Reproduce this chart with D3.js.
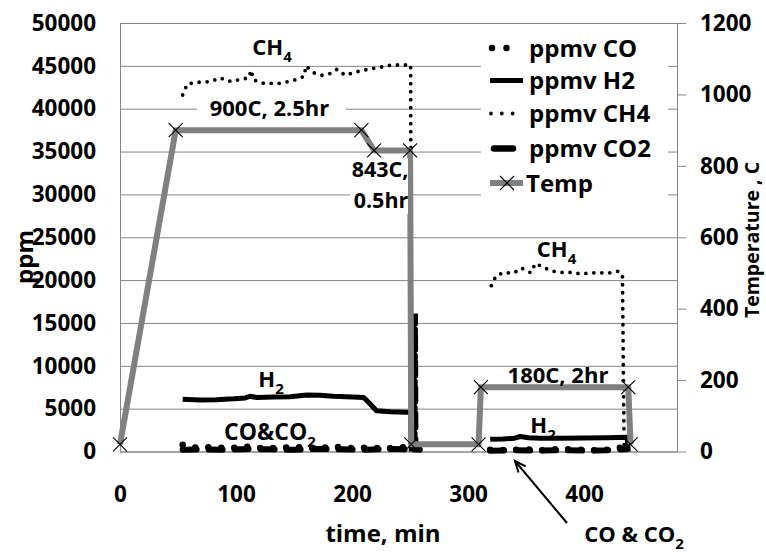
<!DOCTYPE html>
<html><head><meta charset="utf-8">
<script src="https://cdn.jsdelivr.net/npm/d3@7"></script>
<style>
body{margin:0;background:#fff;}
text{font-family:"Open Sans","Noto Sans",sans-serif;font-weight:700;fill:#000;}
</style></head><body>
<svg id="chart" width="766" height="552"></svg>
<script>
// ---- data ----
const timeTicks = [0, 100, 200, 300, 400];
const ppmTicks = [0, 5000, 10000, 15000, 20000, 25000, 30000, 35000, 40000, 45000, 50000];
const tempTicks = [0, 200, 400, 600, 800, 1000, 1200];

const tempTime  = [0, 48, 208, 219, 250, 251, 309, 311, 438, 440];
const tempValue = [20, 900, 900, 843, 843, 20, 20, 180, 180, 20];

const ch4Time  = [54, 58, 69, 78, 86, 96, 103, 111, 113, 115, 124, 138, 152, 159, 160, 167, 174, 181, 187, 194, 201, 210, 218, 227, 234, 243, 250.5, 251,
                  null,
                  320, 324, 331, 339, 346, 354, 358, 364, 372, 381, 389, 398, 405, 414, 422, 430, 433, 434.5];
const ch4Value = [41600, 42900, 43100, 43150, 43600, 43150, 43400, 43600, 44500, 43350, 42950, 42950, 43400, 43800, 45000, 44200, 43900, 44100, 44600, 43900, 44200, 44500, 44700, 44900, 45100, 45100, 45100, 0,
                  null,
                  19350, 20500, 20900, 20800, 21400, 20850, 21950, 21550, 21050, 20900, 20900, 20700, 20850, 20850, 20850, 21050, 20400, 0];

const h2Time  = [54, 69, 83, 98, 108, 112, 118, 132, 147, 161, 172, 184, 195, 210, 215, 221, 233, 247, 250.5, 251,
                 null,
                 319, 330, 340, 345, 352, 362, 380, 400, 420, 437, 438];
const h2Value = [6090, 6010, 6050, 6150, 6250, 6450, 6300, 6350, 6400, 6600, 6550, 6450, 6400, 6300, 5620, 4760, 4640, 4570, 4570, 0,
                 null,
                 1420, 1450, 1550, 1750, 1600, 1550, 1560, 1580, 1600, 1650, 0];

const coTime  = [54, 65, 80, 95, 110, 125, 140, 155, 170, 185, 200, 215, 230, 245, 251, 256,
                 null,
                 319, 335, 350, 365, 380, 395, 410, 425, 436, 438];
const coValue = [800, 450, 500, 400, 550, 350, 450, 500, 400, 550, 400, 450, 350, 500, 600, 300,
                 null,
                 200, 150, 250, 150, 300, 200, 150, 250, 600, 0];

const co2Time  = [54, 70, 90, 110, 130, 150, 170, 190, 210, 230, 250, 253.8, 254.2, 254.6, 260,
                  null,
                  319, 340, 360, 380, 400, 420, 437];
const co2Value = [200, 250, 200, 300, 250, 200, 300, 250, 200, 300, 250, 250, 16100, 250, 200,
                  null,
                  100, 150, 100, 150, 100, 150, 300];

const legendLabels = ["ppmv CO", "ppmv H2", "ppmv CH4", "ppmv CO2", "Temp"];

// ---- layout ----
const X0 = 120, X1 = 677, Y0 = 451.5, Y1 = 23;
const FS = 22.5;
const GRID = "#868686";
const svg = d3.select("#chart");
svg.append("rect").attr("width", 766).attr("height", 552).attr("fill", "#fff");

const x = d3.scaleLinear().domain([0, 480]).range([X0, X1]);
const y = d3.scaleLinear().domain([0, 50000]).range([Y0, Y1]);
const yT = d3.scaleLinear().domain([0, 1200]).range([Y0, Y1]);

function styleAxis(g) {
  g.attr("font-family", null).attr("font-size", FS).attr("font-weight", "bold");
  g.selectAll("line").attr("stroke", GRID);
  g.select(".domain").attr("stroke", GRID);
  g.selectAll("text").attr("fill", "#000");
}

const gL = svg.append("g").attr("transform", `translate(${X0},0)`)
  .call(d3.axisLeft(y).tickValues(ppmTicks).tickSize(-(X1 - X0)).tickSizeOuter(0).tickPadding(24).tickFormat(d3.format("d")));
styleAxis(gL);

const gR = svg.append("g").attr("transform", `translate(${X1},0)`)
  .call(d3.axisRight(yT).tickValues(tempTicks).tickSize(9).tickSizeOuter(0).tickPadding(14).tickFormat(d3.format("d")));
styleAxis(gR);

const gB = svg.append("g").attr("transform", `translate(0,${Y0})`)
  .call(d3.axisBottom(x).tickValues(timeTicks).tickSize(0).tickSizeOuter(0).tickPadding(35).tickFormat(d3.format("d")));
styleAxis(gB);

// axis titles
svg.append("text").attr("x", 383).attr("y", 542).attr("text-anchor", "middle").attr("font-size", 24).text("time, min");
svg.append("text").attr("transform", "translate(33,257) rotate(-90)").attr("text-anchor", "middle").attr("font-size", 24).text("ppm");
svg.append("text").attr("transform", "translate(759,240) rotate(-90)").attr("text-anchor", "middle").attr("font-size", 19.5).text("Temperature , C");

// ---- series ----
const zip = (t, v) => t.map((tt, i) => ({ t: tt, v: v[i] }));
const lineP = d3.line().defined(d => d.v !== null && d.t !== null).x(d => x(d.t)).y(d => y(d.v));
const lineT = d3.line().x(d => x(d.t)).y(d => yT(d.v));

svg.append("path").datum(zip(coTime, coValue)).attr("d", lineP)
  .attr("fill", "none").attr("stroke", "#000").attr("stroke-width", 6.5)
  .attr("stroke-linecap", "round").attr("stroke-dasharray", "0 13");
svg.append("path").datum(zip(h2Time, h2Value)).attr("d", lineP)
  .attr("fill", "none").attr("stroke", "#000").attr("stroke-width", 5).attr("stroke-linejoin", "round");
svg.append("path").datum(zip(ch4Time, ch4Value)).attr("d", lineP)
  .attr("fill", "none").attr("stroke", "#000").attr("stroke-width", 3.8)
  .attr("stroke-linecap", "round").attr("stroke-dasharray", "0 8");
svg.append("path").datum(zip(co2Time, co2Value)).attr("d", lineP)
  .attr("fill", "none").attr("stroke", "#000").attr("stroke-width", 6)
  .attr("stroke-linecap", "round").attr("stroke-dasharray", "14 12");

const tempData = zip(tempTime, tempValue);
svg.append("path").datum(tempData).attr("d", lineT)
  .attr("fill", "none").attr("stroke", "#808080").attr("stroke-width", 6).attr("stroke-linejoin", "round");
const xMark = "M-7,-7L7,7M-7,7L7,-7";
svg.selectAll(".tm").data(tempData).enter().append("path")
  .attr("transform", d => `translate(${x(d.t)},${yT(d.v)})`)
  .attr("d", xMark).attr("stroke", "#000").attr("stroke-width", 1.1).attr("fill", "none");

// ---- annotations ----
function label(cx, by, main, sub, fs) {
  const t = svg.append("text").attr("x", cx).attr("y", by).attr("text-anchor", "middle").attr("font-size", fs || 22);
  t.append("tspan").text(main);
  if (sub) t.append("tspan").attr("font-size", 15).attr("dy", 7).text(sub);
  return t;
}
svg.append("rect").attr("x", 197).attr("y", 95).attr("width", 149).attr("height", 29).attr("fill", "#fff");
svg.append("rect").attr("x", 350).attr("y", 158).attr("width", 58).attr("height", 56).attr("fill", "#fff");
label(272, 55, "CH", "4");
label(269.5, 116, "900C, 2.5hr");
label(380, 177, "843C,", null, 21.5);
label(381, 208, "0.5hr", null, 21.5);
label(271, 387, "H", "2");
label(270, 440, "CO&CO", "2", 23);
label(556.5, 257, "CH", "4");
label(558, 383, "180C, 2hr");
label(543, 433, "H", "2");
label(634, 542, "CO & CO", "2");

// arrow
svg.append("line").attr("x1", 567).attr("y1", 523).attr("x2", 515).attr("y2", 461)
  .attr("stroke", "#000").attr("stroke-width", 2);
(function () {
  const ang = Math.atan2(461 - 523, 515 - 567);
  const L = 12, a = 0.4;
  const p1 = [515 - L * Math.cos(ang - a), 461 - L * Math.sin(ang - a)];
  const p2 = [515 - L * Math.cos(ang + a), 461 - L * Math.sin(ang + a)];
  svg.append("path").attr("d", `M${p1}L515,461L${p2}`).attr("fill", "none").attr("stroke", "#000").attr("stroke-width", 2);
})();

// ---- legend ----
const lg = svg.append("g");
lg.append("rect").attr("x", 481).attr("y", 27).attr("width", 187).attr("height", 172).attr("fill", "#fff");
const ly = [48, 80.5, 113.5, 148.5, 183];
lg.append("line").attr("x1", 492).attr("x2", 507).attr("y1", ly[0]).attr("y2", ly[0])
  .attr("stroke", "#000").attr("stroke-width", 6.5).attr("stroke-linecap", "round").attr("stroke-dasharray", "0 14.5");
lg.append("line").attr("x1", 490).attr("x2", 523).attr("y1", ly[1]).attr("y2", ly[1])
  .attr("stroke", "#000").attr("stroke-width", 5);
lg.append("line").attr("x1", 491).attr("x2", 513).attr("y1", ly[2]).attr("y2", ly[2])
  .attr("stroke", "#000").attr("stroke-width", 3.8).attr("stroke-linecap", "round").attr("stroke-dasharray", "0 10.8");
lg.append("line").attr("x1", 494).attr("x2", 513).attr("y1", ly[3]).attr("y2", ly[3])
  .attr("stroke", "#000").attr("stroke-width", 6.5).attr("stroke-linecap", "round");
lg.append("line").attr("x1", 490).attr("x2", 523).attr("y1", ly[4]).attr("y2", ly[4])
  .attr("stroke", "#808080").attr("stroke-width", 6);
lg.append("path").attr("transform", `translate(507,${ly[4]})`).attr("d", xMark)
  .attr("stroke", "#000").attr("stroke-width", 1.1).attr("fill", "none");
legendLabels.forEach((s, i) => {
  lg.append("text").attr("x", i === 4 ? 526 : 529).attr("y", ly[i] + 8.5).attr("font-size", 24).text(s);
});
</script>
</body></html>
